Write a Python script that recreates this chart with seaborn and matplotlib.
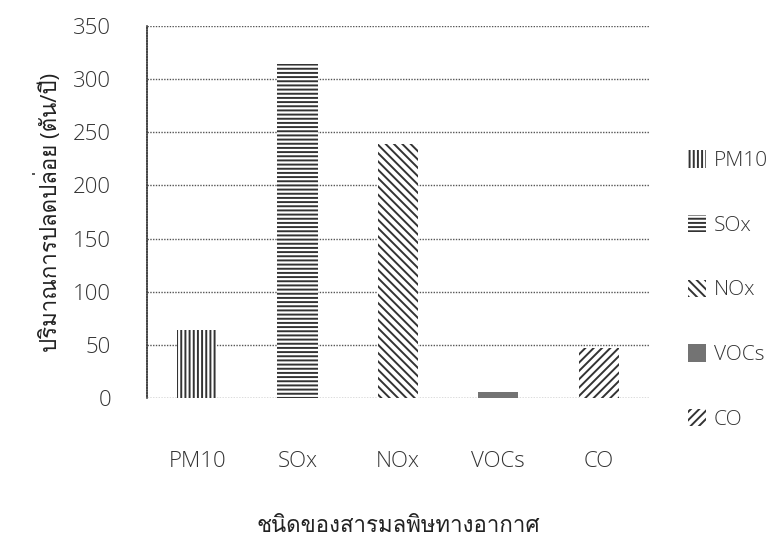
import matplotlib
matplotlib.use("Agg")
import matplotlib.pyplot as plt
import seaborn as sns
import pandas as pd
from matplotlib import font_manager
from matplotlib.patches import Patch
from matplotlib import ft2font

categories = ["PM10", "SOx", "NOx", "VOCs", "CO"]
values = [64, 314, 239, 6, 47]
yticks = [0, 50, 100, 150, 200, 250, 300, 350]
ylabel = "ปริมาณการปลดปล่อย (ตัน/ปี)"
xlabel = "ชนิดของสารมลพิษทางอากาศ"

hatches = ["||||", "----", "\\\\\\\\", "", "////"]
faces = ["white", "white", "white", "#737373", "white"]

# find a font with Thai glyphs
thai_family = None
for f in font_manager.fontManager.ttflist:
    try:
        cm = ft2font.FT2Font(f.fname).get_charmap()
        if 0x0E1B in cm and 0x0E21 in cm:
            thai_family = f.name
            break
    except Exception:
        pass

sns.set_theme(style="white")
fams = ["Open Sans", "DejaVu Sans"]
if thai_family:
    fams = ["Open Sans", thai_family, "DejaVu Sans"]
plt.rcParams["font.family"] = fams
plt.rcParams["font.weight"] = "light"
plt.rcParams["hatch.color"] = "#333333"
plt.rcParams["hatch.linewidth"] = 1.4

df = pd.DataFrame({"cat": categories, "val": values})
fig = plt.figure(figsize=(7.84, 5.4), dpi=100)
ax = fig.add_axes([0.1875, 0.263, 0.64, 0.689])
sns.barplot(data=df, x="cat", y="val", hue="cat", palette=dict(zip(categories, faces)),
            width=0.4, legend=False, ax=ax, edgecolor="#333333", linewidth=0)
for p, h in zip(ax.patches, hatches):
    p.set_hatch(h)

ax.set_ylim(0, 350)
ax.set_xlim(-0.5, 4.5)
ax.set_yticks(yticks)
ax.yaxis.grid(True, color="#555555", linestyle=(0, (1, 1)), linewidth=1.0)
ax.set_axisbelow(True)
for s in ["top", "right", "bottom"]:
    ax.spines[s].set_visible(False)
ax.spines["left"].set_linestyle((0, (1, 0.6)))
ax.spines["left"].set_color("#444444")
ax.spines["left"].set_linewidth(1.2)
ax.tick_params(axis="y", length=0, pad=26, labelsize=16, labelcolor="#333333")
ax.tick_params(axis="x", length=0, pad=38, labelsize=16, labelcolor="#333333")
ax.set_xlabel(xlabel, fontsize=16, color="#222222", labelpad=32)
ax.set_ylabel(ylabel, fontsize=16, color="#222222", labelpad=8)

handles = [Patch(facecolor=fc, hatch=h, edgecolor="#333333", linewidth=0)
           for fc, h in zip(faces, hatches)]
leg = ax.legend(handles, categories, loc="center left", bbox_to_anchor=(1.04, 0.29),
                frameon=False, fontsize=15, labelspacing=2.1, handlelength=0.9,
                handleheight=0.9, handletextpad=0.35, labelcolor="#333333")

fig.savefig("out.png", dpi=100)
